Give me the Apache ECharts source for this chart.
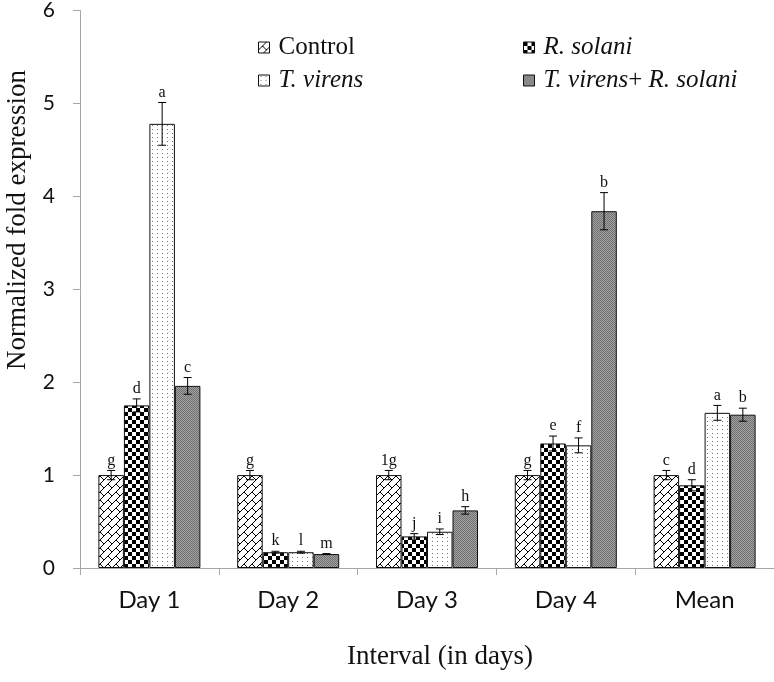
<!DOCTYPE html>
<html>
<head>
<meta charset="utf-8">
<script src="https://cdn.jsdelivr.net/npm/echarts@6/dist/echarts.min.js"></script>
<style>html,body{margin:0;padding:0;background:#fff;}#c{width:774px;height:682px;}</style>
</head>
<body>
<div id="c"></div>
<script>
// ---- data ----
const categories = ['Day 1', 'Day 2', 'Day 3', 'Day 4', 'Mean'];
const seriesNames = ['Control', 'R. solani', 'T. virens', 'T. virens+ R. solani'];
const controlVals  = [1.00, 1.00, 1.00, 1.00, 1.00];
const rsolaniVals  = [1.75, 0.17, 0.34, 1.34, 0.89];
const tvirensVals  = [4.78, 0.17, 0.39, 1.32, 1.67];
const combinedVals = [1.96, 0.15, 0.62, 3.84, 1.65];
const controlErr  = [0.05, 0.05, 0.05, 0.05, 0.05];
const rsolaniErr  = [0.07, 0.01, 0.03, 0.08, 0.06];
const tvirensErr  = [0.23, 0.01, 0.03, 0.08, 0.08];
const combinedErr = [0.09, 0.005, 0.04, 0.20, 0.07];
const controlLetters  = ['g', 'g', '1g', 'g', 'c'];
const rsolaniLetters  = ['d', 'k', 'j', 'e', 'd'];
const tvirensLetters  = ['a', 'l', 'i', 'f', 'a'];
const combinedLetters = ['c', 'm', 'h', 'b', 'b'];
const yTicks = [0, 1, 2, 3, 4, 5, 6];

const allVals = [controlVals, rsolaniVals, tvirensVals, combinedVals];
const allErr = [controlErr, rsolaniErr, tvirensErr, combinedErr];
const allLetters = [controlLetters, rsolaniLetters, tvirensLetters, combinedLetters];

// ---- patterns ----
function makePattern(w, h, draw) {
  const c = document.createElement('canvas');
  c.width = w; c.height = h;
  const ctx = c.getContext('2d');
  draw(ctx);
  return { image: c, repeat: 'repeat' };
}
const brick = makePattern(8, 8, ctx => {
  ctx.fillStyle = '#fff'; ctx.fillRect(0, 0, 8, 8);
  ctx.fillStyle = '#000';
  for (let i = 0; i < 8; i++) ctx.fillRect(i, 7 - i, 1, 1);
  for (let j = 0; j < 4; j++) ctx.fillRect(4 + j, 4 + j, 1, 1);
});
const checker = makePattern(8, 8, ctx => {
  ctx.fillStyle = '#fff'; ctx.fillRect(0, 0, 8, 8);
  ctx.fillStyle = '#000';
  ctx.fillRect(0, 0, 4, 4); ctx.fillRect(4, 4, 4, 4);
});
const dots = makePattern(5, 4, ctx => {
  ctx.fillStyle = '#fff'; ctx.fillRect(0, 0, 5, 4);
  ctx.fillStyle = '#777';
  ctx.fillRect(2, 1, 1, 1);
});
const grey = makePattern(2, 2, ctx => {
  ctx.fillStyle = '#a2a2a2'; ctx.fillRect(0, 0, 2, 2);
  ctx.fillStyle = '#707070';
  ctx.fillRect(0, 0, 1, 1); ctx.fillRect(1, 1, 1, 1);
});
const fills = [brick, checker, dots, grey];

const BAR_W = 25.5;
const serif = '"Liberation Serif", "Times New Roman", serif';
const sans = 'Lato, "Open Sans", sans-serif';

const barSeries = seriesNames.map((name, g) => ({
  name: name,
  type: 'bar',
  barWidth: BAR_W,
  barGap: '0%',
  data: allVals[g],
  itemStyle: { color: fills[g], borderColor: '#111', borderWidth: 1 },
  emphasis: { disabled: true },
  z: 2
}));

const errSeries = seriesNames.map((name, g) => ({
  type: 'custom',
  z: 5,
  silent: true,
  data: allVals[g].map((v, i) => [i, v, allErr[g][i]]),
  encode: { x: 0, y: 1 },
  renderItem: function (params, api) {
    const i = api.value(0), v = api.value(1), e = api.value(2);
    const off = (g - 1.5) * BAR_W;
    const top = api.coord([i, v + e]);
    const bot = api.coord([i, v - e]);
    const x = top[0] + off;
    const cap = 4;
    const style = { stroke: '#000', lineWidth: 1 };
    return {
      type: 'group',
      children: [
        { type: 'line', shape: { x1: x, y1: top[1], x2: x, y2: bot[1] }, style: style },
        { type: 'line', shape: { x1: x - cap, y1: top[1], x2: x + cap, y2: top[1] }, style: style },
        { type: 'line', shape: { x1: x - cap, y1: bot[1], x2: x + cap, y2: bot[1] }, style: style },
        { type: 'text', style: {
            text: allLetters[g][params.dataIndex], x: x, y: top[1] - 2,
            textAlign: 'center', textVerticalAlign: 'bottom',
            font: '16px ' + serif, fill: '#111' } }
      ]
    };
  }
}));

function legendFor(name, left, top) {
  return {
    data: [name], left: left, top: top, padding: 0,
    itemWidth: 11, itemHeight: 11, icon: 'rect',
    selectedMode: false,
    itemStyle: { borderColor: '#111', borderWidth: 1 },
    formatter: function (n) {
      if (n === 'Control') return '{n|Control}';
      if (n === 'R. solani') return '{i|R. solani}';
      if (n === 'T. virens') return '{i|T. virens}';
      return '{i|T. virens}{n|+ }{i|R. solani}';
    },
    textStyle: {
      padding: [0, 0, 0, 4],
      rich: {
        n: { fontFamily: serif, fontSize: 25, color: '#111' },
        i: { fontFamily: serif, fontSize: 25, fontStyle: 'italic', color: '#111' }
      }
    }
  };
}

const chart = echarts.init(document.getElementById('c'), null, { renderer: 'canvas' });
chart.setOption({
  animation: false,
  backgroundColor: '#fff',
  grid: { left: 80, right: 0, top: 10, bottom: 114, containLabel: false },
  legend: [
    legendFor('Control', 258, 35),
    legendFor('R. solani', 523, 35),
    legendFor('T. virens', 258, 68),
    legendFor('T. virens+ R. solani', 523, 68)
  ],
  xAxis: {
    type: 'category',
    data: categories,
    axisLine: { lineStyle: { color: '#a6a6a6', width: 1 } },
    axisTick: { show: true, length: 7, alignWithLabel: false, lineStyle: { color: '#a6a6a6' } },
    axisLabel: { fontFamily: sans, fontSize: 24, color: '#111', margin: 20 },
    splitLine: { show: false }
  },
  yAxis: {
    type: 'value',
    min: yTicks[0], max: yTicks[yTicks.length - 1], interval: 1,
    axisLine: { show: true, lineStyle: { color: '#a6a6a6', width: 1 } },
    axisTick: { show: true, length: 7, lineStyle: { color: '#a6a6a6' } },
    axisLabel: { fontFamily: sans, fontSize: 21, color: '#111', margin: 25 },
    splitLine: { show: false }
  },
  graphic: [
    { type: 'text', x: 18, y: 220, rotation: Math.PI / 2,
      style: { text: 'Normalized fold expression', font: '27px ' + serif, fill: '#111',
               textAlign: 'center', textVerticalAlign: 'middle' } },
    { type: 'text', x: 440, y: 657,
      style: { text: 'Interval (in days)', font: '27px ' + serif, fill: '#111',
               textAlign: 'center', textVerticalAlign: 'middle' } }
  ],
  series: barSeries.concat(errSeries)
});
</script>
</body>
</html>
